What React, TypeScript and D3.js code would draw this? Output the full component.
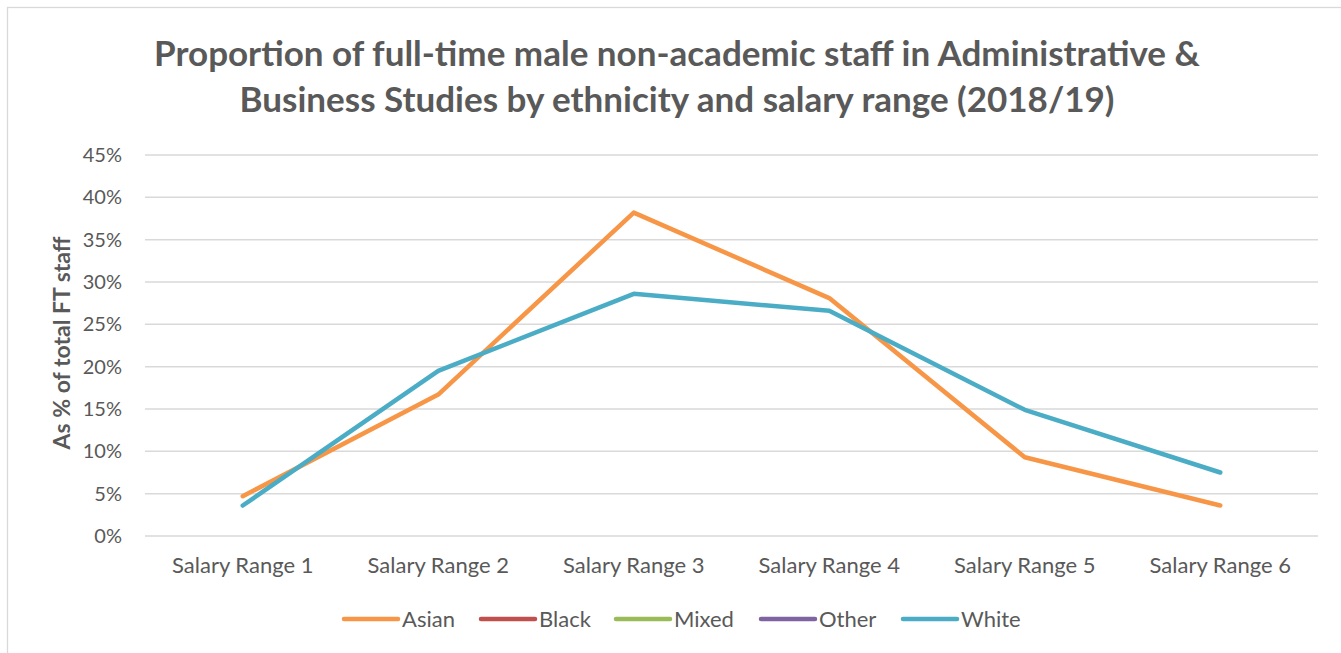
import React from "react";
import * as d3 from "d3";

const categories = [
  "Salary Range 1",
  "Salary Range 2",
  "Salary Range 3",
  "Salary Range 4",
  "Salary Range 5",
  "Salary Range 6",
];
const asian = [4.7, 16.7, 38.2, 28.1, 9.3, 3.6];
const black: (number | null)[] = [null, null, null, null, null, null];
const mixed: (number | null)[] = [null, null, null, null, null, null];
const other: (number | null)[] = [null, null, null, null, null, null];
const white = [3.6, 19.5, 28.6, 26.6, 14.9, 7.5];
const yTicks = [0, 5, 10, 15, 20, 25, 30, 35, 40, 45];
const titleLines = [
  "Proportion of full-time male non-academic staff in Administrative &",
  "Business Studies by ethnicity and salary range (2018/19)",
];

const series = [
  { name: "Asian", values: asian, color: "#F79646" },
  { name: "Black", values: black, color: "#C0504D" },
  { name: "Mixed", values: mixed, color: "#9BBB59" },
  { name: "Other", values: other, color: "#8064A2" },
  { name: "White", values: white, color: "#4BACC6" },
];

const W = 1341;
const H = 653;
const font = "Lato, 'Open Sans', sans-serif";
const textColor = "#595959";

export default function App() {
  const margin = { left: 145, right: 1318, top: 155, bottom: 536 };

  const x = d3
    .scaleBand<string>()
    .domain(categories)
    .range([margin.left, margin.right]);
  const y = d3.scaleLinear().domain([0, 45]).range([margin.bottom, margin.top]);

  const line = d3
    .line<number | null>()
    .defined((d) => d != null)
    .x((d, i) => (x(categories[i]) as number) + x.bandwidth() / 2)
    .y((d) => y(d as number));

  // legend positions (line start)
  const legendX = [344, 481, 616, 761, 903];
  const legendY = 619;

  return (
    <svg
      width={W}
      height={H}
      style={{ position: "absolute", left: 0, top: 0, display: "block" }}
    >
      <rect x={0} y={0} width={W} height={H} fill="#fff" />
      <rect
        x={7.5}
        y={7.5}
        width={W + 50}
        height={H + 50}
        fill="none"
        stroke="#d9d9d9"
        strokeWidth={1.3}
      />

      {titleLines.map((t, i) => (
        <text
          key={t}
          x={677}
          y={66 + i * 46}
          textAnchor="middle"
          fontFamily={font}
          fontWeight="bold"
          fontSize={35}
          fill={textColor}
        >
          {t}
        </text>
      ))}

      {/* gridlines */}
      {yTicks.map((t) => (
        <g key={t}>
          <line
            x1={margin.left}
            x2={margin.right}
            y1={y(t)}
            y2={y(t)}
            stroke="#d9d9d9"
            strokeWidth={1.5}
          />
          <text
            x={122}
            y={y(t)}
            dy="0.35em"
            textAnchor="end"
            fontFamily={font}
            fontSize={20}
            fill={textColor}
          >
            {t}%
          </text>
        </g>
      ))}

      {categories.map((c) => (
        <text
          key={c}
          x={(x(c) as number) + x.bandwidth() / 2}
          y={573}
          textAnchor="middle"
          fontFamily={font}
          fontSize={22}
          fill={textColor}
        >
          {c}
        </text>
      ))}

      <text
        transform={`translate(70,343) rotate(-90)`}
        textAnchor="middle"
        fontFamily={font}
        fontWeight="bold"
        fontSize={23}
        fill={textColor}
      >
        As % of total FT staff
      </text>

      {series.map((s) => (
        <path
          key={s.name}
          d={line(s.values) || ""}
          fill="none"
          stroke={s.color}
          strokeWidth={4.5}
          strokeLinecap="round"
          strokeLinejoin="round"
        />
      ))}

      {series.map((s, i) => (
        <g key={s.name}>
          <line
            x1={legendX[i]}
            x2={legendX[i] + 54}
            y1={legendY}
            y2={legendY}
            stroke={s.color}
            strokeWidth={4.5}
            strokeLinecap="round"
          />
          <text
            x={legendX[i] + 58}
            y={627}
            fontFamily={font}
            fontSize={22}
            fill={textColor}
          >
            {s.name}
          </text>
        </g>
      ))}
    </svg>
  );
}
